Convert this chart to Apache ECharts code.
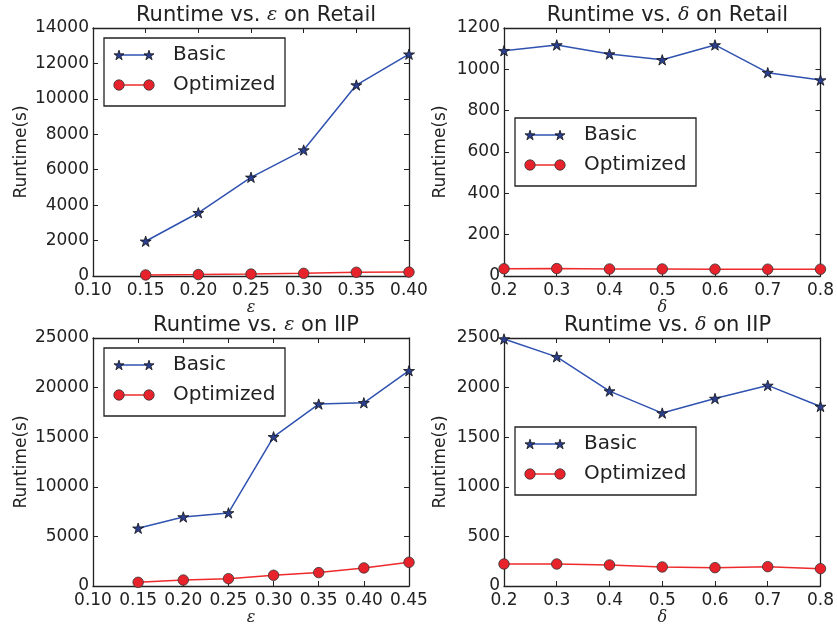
<!DOCTYPE html>
<html>
<head>
<meta charset="utf-8">
<script src="https://cdn.jsdelivr.net/npm/echarts@6/dist/echarts.min.js"></script>
<style>
  html, body { margin: 0; padding: 0; background: #fff; }
  #chart { width: 837px; height: 630px; }
</style>
</head>
<body>
<div id="chart"></div>
<script>
// ---- data ----
const epsRetail = [0.15, 0.20, 0.25, 0.30, 0.35, 0.40];
const basicEpsRetail = [1960, 3570, 5570, 7110, 10780, 12520];
const optEpsRetail = [60, 80, 110, 150, 210, 220];

const deltaVals = [0.2, 0.3, 0.4, 0.5, 0.6, 0.7, 0.8];
const basicDeltaRetail = [1090, 1118, 1074, 1046, 1118, 984, 948];
const optDeltaRetail = [35, 36, 34, 34, 33, 33, 33];

const epsIIP = [0.15, 0.20, 0.25, 0.30, 0.35, 0.40, 0.45];
const basicEpsIIP = [5820, 6960, 7370, 15040, 18340, 18470, 21700];
const optEpsIIP = [370, 600, 740, 1080, 1350, 1820, 2390];

const basicDeltaIIP = [2490, 2310, 1965, 1743, 1890, 2022, 1810];
const optDeltaIIP = [222, 222, 212, 192, 185, 195, 175];

const seriesNames = ['Basic', 'Optimized'];

// ---- styling ----
const FONT = 'DejaVu Sans';
const INK = '#222222';
const BLUE_LINE = '#3052b0';
const BLUE_FILL = '#2b3f8e';
const RED_LINE = '#ee2a2a';
const RED_FILL = '#e8222b';
const STAR = 'path://M50 0 L61.23 34.55 L97.55 34.55 L68.17 55.9 L79.39 90.45 L50 69.1 L20.61 90.45 L31.83 55.9 L2.45 34.55 L38.77 34.55 Z';

const panels = [
  { title: 'Runtime vs. {m|ε} on Retail', xName: 'ε', grid: { left: 93, top: 28, width: 316, height: 248 },
    xMin: 0.10, xMax: 0.40, xStep: 0.05, xDec: 2, yMax: 14000, yStep: 2000, yGap: 63,
    xs: epsRetail, basic: basicEpsRetail, opt: optEpsRetail, legend: [104, 38] },
  { title: 'Runtime vs. {m|δ} on Retail', xName: 'δ', grid: { left: 504, top: 28, width: 317, height: 248 },
    xMin: 0.2, xMax: 0.8, xStep: 0.1, xDec: 1, yMax: 1200, yStep: 200, yGap: 55,
    xs: deltaVals, basic: basicDeltaRetail, opt: optDeltaRetail, legend: [515, 118] },
  { title: 'Runtime vs. {m|ε} on IIP', xName: 'ε', grid: { left: 93, top: 338, width: 316, height: 248 },
    xMin: 0.10, xMax: 0.45, xStep: 0.05, xDec: 2, yMax: 25000, yStep: 5000, yGap: 63,
    xs: epsIIP, basic: basicEpsIIP, opt: optEpsIIP, legend: [104, 348] },
  { title: 'Runtime vs. {m|δ} on IIP', xName: 'δ', grid: { left: 504, top: 338, width: 317, height: 248 },
    xMin: 0.2, xMax: 0.8, xStep: 0.1, xDec: 1, yMax: 2500, yStep: 500, yGap: 55,
    xs: deltaVals, basic: basicDeltaIIP, opt: optDeltaIIP, legend: [515, 427] }
];

const frameLine = { show: true, onZero: false, lineStyle: { color: INK, width: 1.3 } };
const innerTick = { show: true, inside: true, length: 5, lineStyle: { color: INK, width: 1 } };

const grids = [], xAxes = [], yAxes = [], titles = [], series = [], graphics = [];

function starPoints(cx, cy, r) {
  const pts = [];
  for (let k = 0; k < 10; k++) {
    const rr = k % 2 === 0 ? r : r * 0.382;
    const a = -Math.PI / 2 + k * Math.PI / 5;
    pts.push([cx + rr * Math.cos(a), cy + rr * Math.sin(a)]);
  }
  return pts;
}

function legendBox(x, y) {
  const items = [];
  items.push({ type: 'rect', shape: { x: x, y: y, width: 181, height: 68 },
    style: { fill: '#fff', stroke: INK, lineWidth: 1.3 }, z: 100 });
  const rowY = [y + 17, y + 47];
  const m1 = x + 15, m2 = x + 45;
  // Basic row
  items.push({ type: 'line', shape: { x1: m1, y1: rowY[0], x2: m2, y2: rowY[0] },
    style: { stroke: BLUE_LINE, lineWidth: 1.5 }, z: 101 });
  [m1, m2].forEach(mx => items.push({ type: 'polygon', shape: { points: starPoints(mx, rowY[0] + 0.5, 5.3) },
    style: { fill: BLUE_FILL, stroke: '#111', lineWidth: 0.8 }, z: 102 }));
  // Optimized row
  items.push({ type: 'line', shape: { x1: m1, y1: rowY[1], x2: m2, y2: rowY[1] },
    style: { stroke: RED_LINE, lineWidth: 1.5 }, z: 101 });
  [m1, m2].forEach(mx => items.push({ type: 'circle', shape: { cx: mx, cy: rowY[1], r: 5.2 },
    style: { fill: RED_FILL, stroke: '#333', lineWidth: 0.8 }, z: 102 }));
  seriesNames.forEach((name, i) => items.push({ type: 'text', x: x + 69, y: rowY[i],
    style: { text: name, font: '20px "' + FONT + '"', fill: INK, verticalAlign: 'middle', align: 'left' }, z: 102 }));
  return items;
}

panels.forEach((p, i) => {
  grids.push(Object.assign({ containLabel: false }, p.grid));
  const cx = p.grid.left + p.grid.width / 2;
  titles.push({
    text: p.title, left: cx, top: p.grid.top - 28, textAlign: 'center',
    textStyle: { fontFamily: FONT, fontSize: 21, fontWeight: 'normal', color: INK,
      rich: { m: { fontFamily: 'DejaVu Serif', fontStyle: 'italic', fontSize: 19, color: INK } } }
  });
  // bottom axis with labels
  xAxes.push({
    type: 'value', gridIndex: i, position: 'bottom', min: p.xMin, max: p.xMax, interval: p.xStep,
    name: p.xName, nameLocation: 'middle', nameGap: 23,
    nameTextStyle: { fontFamily: 'DejaVu Serif', fontStyle: 'italic', fontSize: 16, color: INK },
    axisLine: frameLine, axisTick: innerTick, splitLine: { show: false },
    axisLabel: { show: true, margin: 6, fontFamily: FONT, fontSize: 17, color: INK,
      formatter: v => v.toFixed(p.xDec), showMinLabel: true, showMaxLabel: true }
  });
  // top mirror axis (frame + ticks only)
  xAxes.push({
    type: 'value', gridIndex: i, position: 'top', min: p.xMin, max: p.xMax, interval: p.xStep,
    axisLine: frameLine, axisTick: innerTick, splitLine: { show: false }, axisLabel: { show: false }
  });
  yAxes.push({
    type: 'value', gridIndex: i, position: 'left', min: 0, max: p.yMax, interval: p.yStep,
    name: 'Runtime(s)', nameLocation: 'middle', nameGap: p.yGap, nameRotate: 90,
    nameTextStyle: { fontFamily: FONT, fontSize: 17, color: INK },
    axisLine: frameLine, axisTick: innerTick, splitLine: { show: false },
    axisLabel: { show: true, margin: 4, fontFamily: FONT, fontSize: 17, color: INK, formatter: v => String(v) }
  });
  yAxes.push({
    type: 'value', gridIndex: i, position: 'right', min: 0, max: p.yMax, interval: p.yStep,
    axisLine: frameLine, axisTick: innerTick, splitLine: { show: false }, axisLabel: { show: false }
  });

  series.push({
    name: 'Basic', type: 'line', xAxisIndex: 2 * i, yAxisIndex: 2 * i,
    data: p.xs.map((x, k) => [x, p.basic[k]]),
    symbol: STAR, symbolSize: 11, symbolKeepAspect: true, clip: true,
    lineStyle: { color: BLUE_LINE, width: 1.5 },
    itemStyle: { color: BLUE_FILL, borderColor: '#111', borderWidth: 0.8 },
    emphasis: { disabled: true }, animation: false, z: 3
  });
  series.push({
    name: 'Optimized', type: 'line', xAxisIndex: 2 * i, yAxisIndex: 2 * i,
    data: p.xs.map((x, k) => [x, p.opt[k]]),
    symbol: 'circle', symbolSize: 10.5, clip: true,
    lineStyle: { color: RED_LINE, width: 1.5 },
    itemStyle: { color: RED_FILL, borderColor: '#333', borderWidth: 0.8 },
    emphasis: { disabled: true }, animation: false, z: 4
  });
  graphics.push(...legendBox(p.legend[0], p.legend[1]));
});

const chart = echarts.init(document.getElementById('chart'), null, { renderer: 'canvas' });
chart.setOption({
  backgroundColor: '#ffffff',
  animation: false,
  title: titles,
  grid: grids,
  xAxis: xAxes,
  yAxis: yAxes,
  series: series,
  graphic: graphics
});
</script>
</body>
</html>
